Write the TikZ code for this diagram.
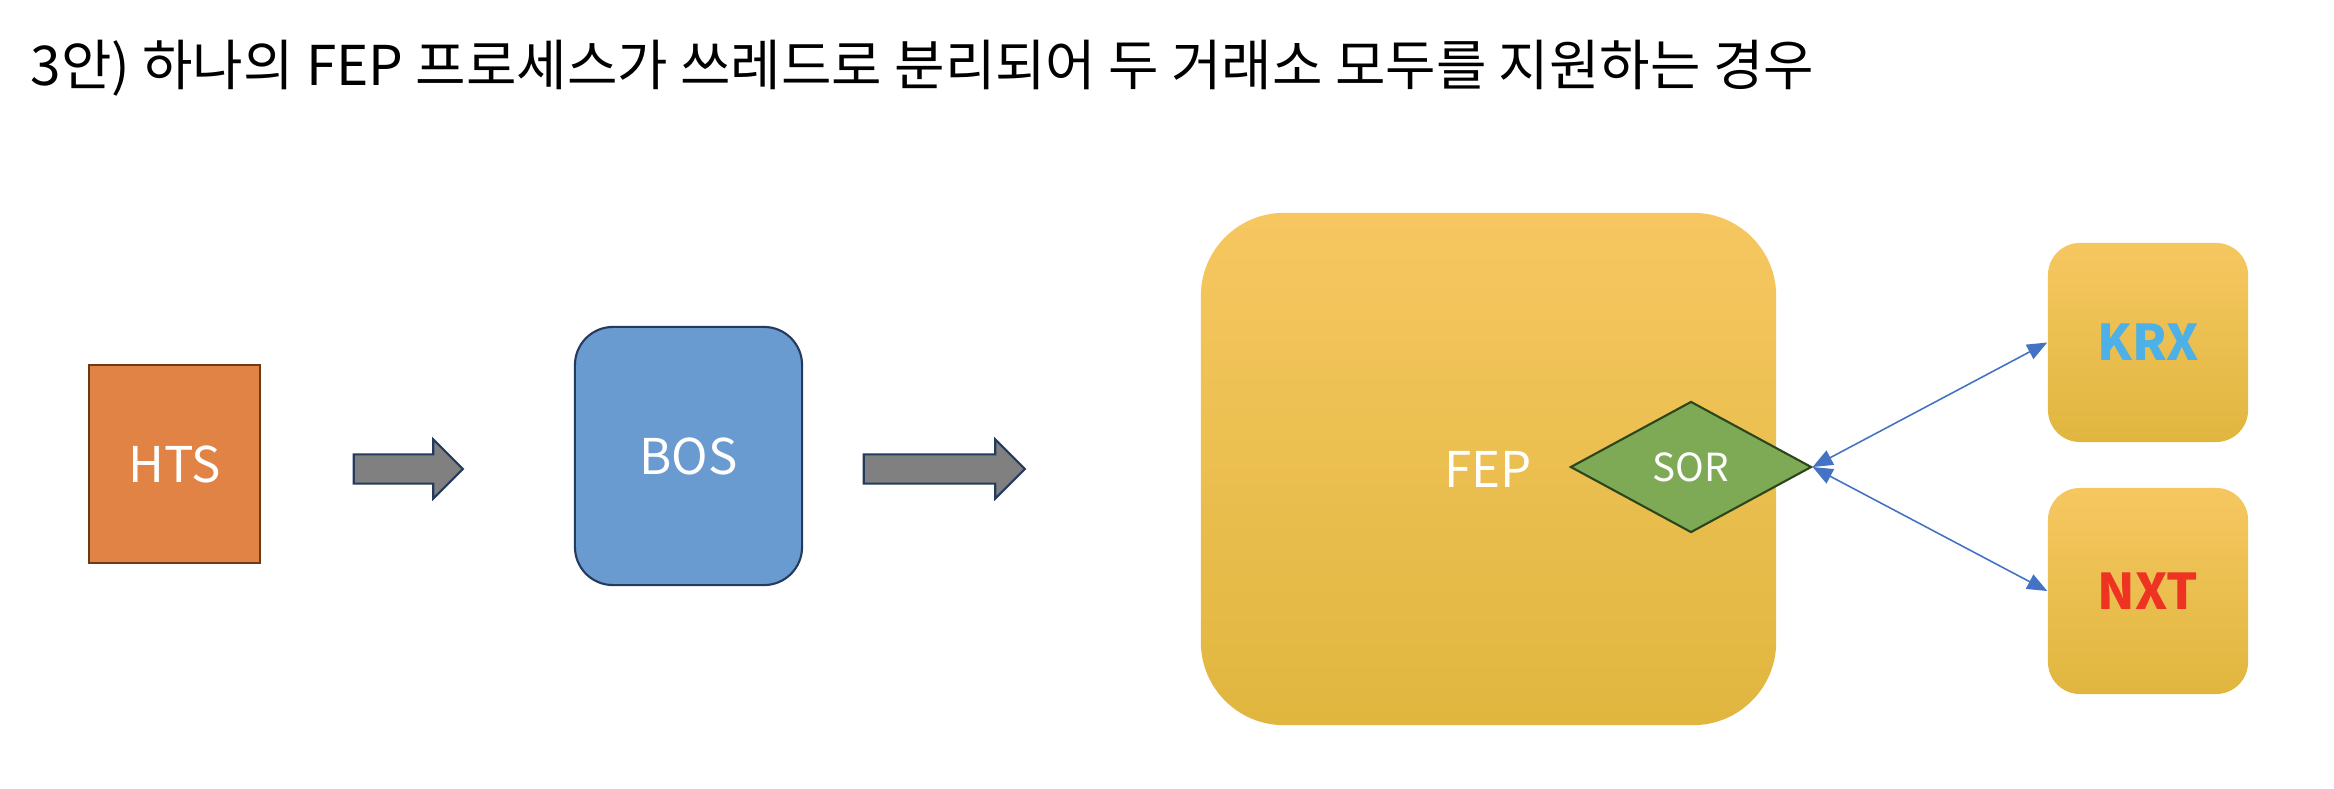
\documentclass[tikz,border=0pt]{standalone}
\usepackage{fontspec}
\setmainfont{Noto Sans CJK KR}
\definecolor{htsorange}{RGB}{224,131,69}
\definecolor{htsborder}{RGB}{110,58,22}
\definecolor{bosblue}{RGB}{106,155,208}
\definecolor{navyborder}{RGB}{37,59,94}
\definecolor{arrowgray}{RGB}{128,128,128}
\definecolor{feptop}{RGB}{246,199,96}
\definecolor{fepmid}{RGB}{245,196,67}
\definecolor{fepbottom}{RGB}{224,182,63}
\definecolor{sorgreen}{RGB}{126,170,85}
\definecolor{sorborder}{RGB}{44,70,28}
\definecolor{linkblue}{RGB}{68,114,196}
\definecolor{krxblue}{RGB}{77,176,230}
\definecolor{nxtred}{RGB}{238,51,34}
\usetikzlibrary{shapes.geometric,shapes.arrows,arrows.meta}

\begin{document}
\begin{tikzpicture}[x=0.01cm, y=-0.01cm,
    labelfont/.style={font=\fontsize{14}{16}\selectfont},
    gold/.style={top color=feptop, middle color=fepmid, bottom color=fepbottom, inner sep=0pt},
    blockarrow/.style={shape=single arrow, draw=navyborder, line width=0.6pt, fill=arrowgray,
        inner sep=0pt, text height=0.27cm, text depth=0pt, text width=0pt,
        single arrow head extend=0.15cm, single arrow tip angle=90},
    link/.style={linkblue, line width=0.45pt, {Triangle[length=0.2cm,width=0.16cm]}-{Triangle[length=0.2cm,width=0.16cm]}}]
    \useasboundingbox (0,0) rectangle (2334,788);

    % Title
    \node[anchor=base west, inner sep=0pt, font=\fontsize{15.6}{18}\selectfont] (title) at (30,86)
        {3안) 하나의 FEP 프로세스가 쓰레드로 분리되어 두 거래소 모두를 지원하는 경우};

    % HTS and BOS
    \node[draw=htsborder, line width=0.6pt, fill=htsorange, text=white, labelfont,
        minimum width=1.71cm, minimum height=1.98cm] (hts) at (174.5,464) {HTS};
    \node[draw=navyborder, line width=0.6pt, fill=bosblue, text=white, labelfont, rounded corners=0.38cm,
        minimum width=2.27cm, minimum height=2.58cm] (bos) at (688.5,456) {BOS};

    % Block arrows
    \node[blockarrow, minimum height=1.09cm] (arrowA) at (401,469) {};
    \node[blockarrow, minimum height=1.61cm] (arrowB) at (937,469) {};

    % FEP with SOR
    \node[gold, rounded corners=0.83cm, minimum width=5.75cm, minimum height=5.12cm] (fep) at (1488.5,469) {};
    \node[text=white, labelfont] (feplabel) at (1488,469) {FEP};
    \node[diamond, draw=sorborder, line width=0.6pt, fill=sorgreen, text=white, inner sep=0pt,
        shape aspect=1.84, minimum width=2.41cm, minimum height=1.31cm,
        font=\fontsize{11}{13}\selectfont] (sor) at (1691,467) {SOR};

    % Exchanges
    \node[gold, rounded corners=0.32cm, minimum width=2cm, minimum height=1.99cm,
        text=krxblue, font=\fontsize{14}{16}\selectfont\bfseries] (krx) at (2148,342.5) {KRX};
    \node[gold, rounded corners=0.32cm, minimum width=2cm, minimum height=2.06cm,
        text=nxtred, font=\fontsize{14}{16}\selectfont\bfseries] (nxt) at (2148,591) {NXT};

    % Links
    \draw[link] (sor.east) -- (krx.west);
    \draw[link] (sor.east) -- (nxt.west);
\end{tikzpicture}
\end{document}
